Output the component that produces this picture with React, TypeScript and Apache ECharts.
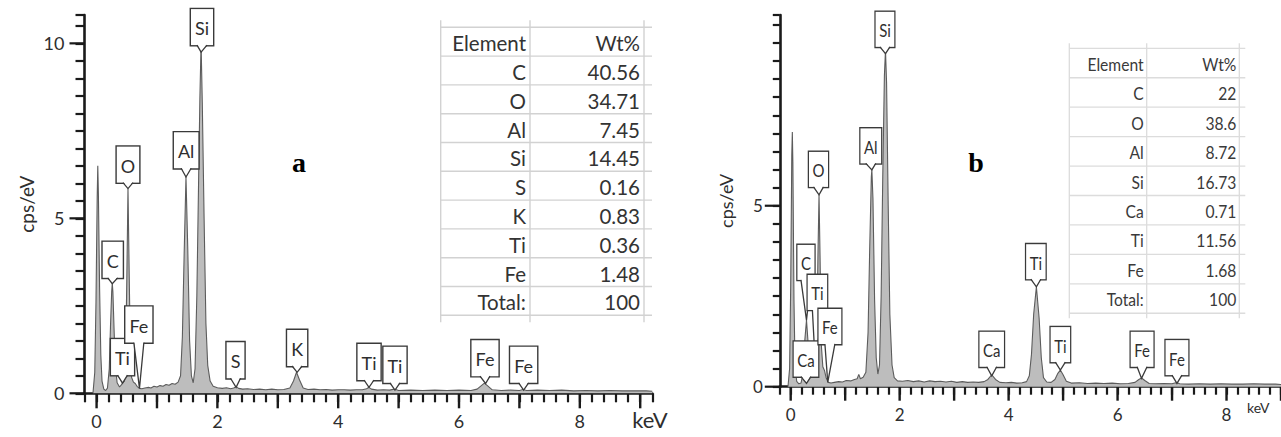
import React, { useEffect, useRef } from 'react';
import * as echarts from 'echarts';

// ---------- DATA ----------
// Spectrum a: [keV, cps/eV]
const spectrumA: [number, number][] = [
  [-0.06, 0.0], [-0.03, 0.6], [-0.01, 2.6], [0.01, 5.6], [0.02, 6.5], [0.03, 5.7], [0.05, 3.0], [0.07, 1.1],
  [0.09, 0.35], [0.12, 0.12], [0.15, 0.08], [0.18, 0.15], [0.21, 0.7], [0.23, 1.9], [0.25, 2.9], [0.26, 3.15],
  [0.27, 2.9], [0.29, 1.8], [0.31, 0.8], [0.34, 0.3], [0.38, 0.18], [0.41, 0.24], [0.43, 0.3], [0.46, 0.35],
  [0.48, 0.9], [0.5, 3.2], [0.52, 5.85], [0.54, 3.4], [0.56, 1.1], [0.58, 0.45], [0.61, 0.32], [0.64, 0.28],
  [0.67, 0.2], [0.71, 0.14], [0.75, 0.13], [0.8, 0.15], [0.86, 0.17], [0.9, 0.15], [0.95, 0.2], [1.0, 0.18],
  [1.05, 0.22], [1.1, 0.2], [1.15, 0.25], [1.2, 0.23], [1.25, 0.28], [1.3, 0.26], [1.35, 0.32], [1.39, 0.5],
  [1.42, 1.6], [1.45, 4.0], [1.48, 6.18], [1.51, 4.1], [1.54, 1.5], [1.57, 0.5], [1.6, 0.3], [1.63, 0.7],
  [1.66, 2.8], [1.69, 6.2], [1.71, 8.4], [1.73, 10.0], [1.75, 8.3], [1.78, 5.0], [1.81, 2.0], [1.84, 0.8],
  [1.88, 0.35], [1.93, 0.2], [2.0, 0.16], [2.08, 0.14], [2.15, 0.16], [2.22, 0.13], [2.27, 0.15], [2.31, 0.19],
  [2.35, 0.14], [2.42, 0.12], [2.5, 0.13], [2.6, 0.11], [2.7, 0.12], [2.8, 0.1], [2.9, 0.12], [3.0, 0.1],
  [3.1, 0.11], [3.2, 0.15], [3.26, 0.35], [3.31, 0.6], [3.36, 0.38], [3.42, 0.15], [3.5, 0.11], [3.6, 0.12],
  [3.7, 0.1], [3.8, 0.11], [3.9, 0.09], [4.0, 0.1], [4.1, 0.1], [4.2, 0.09], [4.3, 0.1], [4.4, 0.1],
  [4.47, 0.13], [4.51, 0.17], [4.55, 0.12], [4.65, 0.09], [4.75, 0.1], [4.85, 0.09], [4.93, 0.12], [5.0, 0.08],
  [5.2, 0.09], [5.4, 0.08], [5.6, 0.09], [5.8, 0.08], [6.0, 0.09], [6.2, 0.08], [6.3, 0.12], [6.37, 0.22],
  [6.42, 0.29], [6.47, 0.22], [6.55, 0.1], [6.7, 0.08], [6.85, 0.09], [7.0, 0.08], [7.06, 0.11], [7.12, 0.08],
  [7.3, 0.09], [7.5, 0.08], [7.7, 0.09], [7.9, 0.07], [8.1, 0.08], [8.3, 0.07], [8.5, 0.08], [8.7, 0.07],
  [8.9, 0.07], [9.1, 0.07], [9.2, 0.06],
];

// Spectrum b: [keV, cps/eV]
const spectrumB: [number, number][] = [
  [-0.05, 0.0], [-0.02, 0.5], [0.0, 2.8], [0.02, 6.4], [0.03, 7.04], [0.04, 6.2], [0.06, 2.4], [0.08, 0.6],
  [0.11, 0.15], [0.15, 0.08], [0.19, 0.1], [0.23, 0.4], [0.26, 1.3], [0.29, 1.84], [0.32, 1.2], [0.35, 0.45],
  [0.39, 0.35], [0.42, 0.5], [0.45, 0.65], [0.48, 1.4], [0.5, 3.6], [0.52, 5.3], [0.54, 3.5], [0.56, 1.2],
  [0.59, 0.55], [0.62, 0.45], [0.65, 0.25], [0.69, 0.12], [0.74, 0.1], [0.8, 0.12], [0.88, 0.14], [0.95, 0.13],
  [1.02, 0.17], [1.1, 0.16], [1.17, 0.2], [1.22, 0.22], [1.25, 0.34], [1.28, 0.22], [1.33, 0.26], [1.38, 0.4],
  [1.42, 1.5], [1.45, 3.8], [1.48, 5.8], [1.49, 5.99], [1.51, 5.2], [1.54, 2.4], [1.57, 0.8], [1.6, 0.35],
  [1.63, 0.6], [1.66, 2.5], [1.69, 5.8], [1.72, 8.6], [1.74, 9.3], [1.76, 8.4], [1.79, 5.0], [1.82, 2.0],
  [1.86, 0.6], [1.9, 0.25], [1.96, 0.16], [2.05, 0.15], [2.15, 0.17], [2.25, 0.14], [2.35, 0.16], [2.45, 0.13],
  [2.55, 0.16], [2.65, 0.14], [2.75, 0.15], [2.85, 0.13], [2.95, 0.15], [3.05, 0.12], [3.15, 0.14], [3.25, 0.12],
  [3.35, 0.13], [3.45, 0.12], [3.55, 0.14], [3.62, 0.2], [3.69, 0.33], [3.76, 0.2], [3.84, 0.12], [3.95, 0.11],
  [4.05, 0.12], [4.15, 0.1], [4.25, 0.11], [4.33, 0.14], [4.38, 0.3], [4.42, 0.9], [4.46, 2.0], [4.51, 2.76],
  [4.56, 1.9], [4.6, 0.8], [4.64, 0.25], [4.7, 0.13], [4.78, 0.12], [4.85, 0.2], [4.9, 0.36], [4.95, 0.46],
  [5.0, 0.33], [5.06, 0.15], [5.15, 0.1], [5.3, 0.11], [5.45, 0.09], [5.6, 0.1], [5.75, 0.09], [5.9, 0.1],
  [6.05, 0.08], [6.2, 0.09], [6.32, 0.12], [6.39, 0.2], [6.44, 0.24], [6.5, 0.17], [6.58, 0.09], [6.7, 0.08],
  [6.85, 0.09], [7.0, 0.08], [7.05, 0.1], [7.09, 0.11], [7.14, 0.08], [7.3, 0.07], [7.5, 0.08], [7.7, 0.07],
  [7.9, 0.08], [8.1, 0.07], [8.3, 0.07], [8.5, 0.08], [8.7, 0.07], [8.9, 0.07], [9.0, 0.06],
];

// Peak labels: [text, tip keV, tip cps, box keV, box-bottom cps]
const peakLabelsA: [string, number, number, number, number][] = [
  ['Si', 1.73, 9.75, 1.745, 9.95],
  ['Al', 1.48, 6.18, 1.483, 6.43],
  ['O', 0.52, 5.85, 0.52, 6.02],
  ['C', 0.26, 3.13, 0.267, 3.3],
  ['Ti', 0.43, 0.29, 0.429, 0.52],
  ['Fe', 0.71, 0.14, 0.7, 1.45],
  ['S', 2.31, 0.17, 2.3, 0.43],
  ['K', 3.32, 0.6, 3.32, 0.78],
  ['Ti', 4.51, 0.17, 4.51, 0.38],
  ['Ti', 4.94, 0.09, 4.94, 0.3],
  ['Fe', 6.44, 0.28, 6.43, 0.49],
  ['Fe', 7.07, 0.09, 7.07, 0.3],
];
const peakLabelsB: [string, number, number, number, number][] = [
  ['Si', 1.74, 9.2, 1.73, 9.39],
  ['Al', 1.49, 5.99, 1.47, 6.17],
  ['O', 0.52, 5.3, 0.51, 5.52],
  ['C', 0.29, 1.84, 0.28, 2.95],
  ['Ti', 0.45, 0.65, 0.49, 2.12],
  ['Ca', 0.29, 0.09, 0.28, 0.28],
  ['Fe', 0.68, 0.12, 0.72, 1.18],
  ['Ca', 3.69, 0.3, 3.69, 0.55],
  ['Ti', 4.51, 2.76, 4.5, 2.97],
  ['Ti', 4.95, 0.46, 4.95, 0.68],
  ['Fe', 6.44, 0.23, 6.45, 0.55],
  ['Fe', 7.09, 0.09, 7.09, 0.32],
];

// Composition tables
const elementsA = ['C', 'O', 'Al', 'Si', 'S', 'K', 'Ti', 'Fe'];
const wtA = [40.56, 34.71, 7.45, 14.45, 0.16, 0.83, 0.36, 1.48];
const totalA = 100;
const elementsB = ['C', 'O', 'Al', 'Si', 'Ca', 'Ti', 'Fe'];
const wtB = [22, 38.6, 8.72, 16.73, 0.71, 11.56, 1.68];
const totalB = 100;

// Axis ticks
const xMajorTicks = [0, 1, 2, 3, 4, 5, 6, 7, 8, 9];
const xTickLabels = [0, 2, 4, 6, 8];
const yLabelsA = [0, 5, 10];
const yLabelsB = [0, 5];
const xMinorInterval = 0.2;
const yMinorInterval = 0.5;

// ---------- STYLE / LAYOUT ----------
const FONT = 'Lato, "Open Sans", sans-serif';
const AX = '#1a1a1a';
const TXT = '#2e2e2e';

function makeLabelRender(labels: [string, number, number, number, number][], fontSize: number, pad: number[], hw: number, scaleX: number) {
  return (params: any, api: any) => {
    const tip = api.coord([api.value(0), api.value(1)]);
    const box = api.coord([api.value(2), api.value(3)]);
    const text = labels[params.dataIndex][0];
    return {
      type: 'group',
      children: [
        {
          type: 'text',
          x: box[0],
          y: box[1],
          scaleX,
          style: {
            text,
            font: `${fontSize}px ${FONT}`,
            fill: TXT,
            align: 'center',
            verticalAlign: 'bottom',
            backgroundColor: '#fff',
            borderColor: '#3a3a3a',
            borderWidth: 1.4,
            padding: pad,
          },
        },
        {
          type: 'polygon',
          shape: { points: [[box[0] - hw, box[1] - 1.2], [tip[0], tip[1]], [box[0] + hw, box[1] - 1.2]] },
          style: { fill: '#fff', stroke: null },
        },
        {
          type: 'polyline',
          shape: { points: [[box[0] - hw, box[1]], [tip[0], tip[1]], [box[0] + hw, box[1]]] },
          style: { stroke: '#3a3a3a', lineWidth: 1.3, fill: null },
        },
      ],
    };
  };
}

function tableGraphics(
  col1: string[], col2: string[],
  L: { x0: number; x1: number; x2: number; y0: number; rowH: number; extV: number; extH: number; fontSize: number; scaleX: number; pad: number; dy: number; lineColor: string; textColor: string; lineWidth: number }
) {
  const n = col1.length;
  const yEnd = L.y0 + n * L.rowH;
  const els: any[] = [];
  [L.x0, L.x1, L.x2].forEach((x) => {
    els.push({ type: 'line', shape: { x1: x, y1: L.y0 - L.extV, x2: x, y2: yEnd + L.extV }, style: { stroke: L.lineColor, lineWidth: L.lineWidth }, silent: true });
  });
  for (let i = 0; i <= n; i++) {
    const y = L.y0 + i * L.rowH;
    els.push({ type: 'line', shape: { x1: L.x0, y1: y, x2: L.x2 + L.extH, y2: y }, style: { stroke: L.lineColor, lineWidth: L.lineWidth }, silent: true });
  }
  for (let i = 0; i < n; i++) {
    const y = L.y0 + (i + 0.5) * L.rowH + L.dy;
    els.push({ type: 'text', x: L.x1 - L.pad, y, scaleX: L.scaleX, style: { text: col1[i], font: `${L.fontSize}px ${FONT}`, fill: L.textColor, align: 'right', verticalAlign: 'middle' }, silent: true });
    els.push({ type: 'text', x: L.x2 - L.pad, y, scaleX: L.scaleX, style: { text: col2[i], font: `${L.fontSize}px ${FONT}`, fill: L.textColor, align: 'right', verticalAlign: 'middle' }, silent: true });
  }
  return els;
}

export default function App() {
  const ref = useRef<HTMLDivElement>(null);
  useEffect(() => {
    if (!ref.current) return;
    const chart = echarts.init(ref.current, undefined, { renderer: 'svg' });

    // min is a multiple of the tick interval so native ticks fall on -0.2, 0, 0.2, ...
    const xA = { min: -0.2, max: 9.2 };
    const xB = { min: -0.2, max: 9.0 };
    const yA = { min: 0, max: 10.81 };
    const yB = { min: 0, max: 10.27 };
    const gridA = { left: 84.5, top: 15, width: 567.8, height: 378.3 };
    const gridB = { left: 779.8, top: 15, width: 501.2, height: 371.7 };

    const xAxisDef = (grid: number, r: any, tickLen: number, fontSize: number, margin: number, nameGap: number, nameSize: number, namePad: number) => ({
      gridIndex: grid, type: 'value', min: r.min, max: r.max, interval: xMinorInterval, position: 'bottom',
      axisLine: { show: true, onZero: false, lineStyle: { color: AX, width: 2.6 } },
      axisTick: { show: true, length: tickLen, lineStyle: { color: AX, width: 2.2 } },
      axisLabel: { show: true, customValues: xTickLabels, margin, fontSize, fontFamily: FONT, color: TXT },
      splitLine: { show: false },
      name: 'keV', nameLocation: 'end', nameGap, nameMoveOverlap: false,
      nameTextStyle: { fontSize: nameSize, fontFamily: FONT, color: TXT, align: 'left', verticalAlign: 'top', padding: [namePad, 0, 0, 0] },
    });
    const yAxisDef = (grid: number, r: any, labels: number[], tickLen: number, fontSize: number, margin: number, nameGap: number, nameSize: number) => ({
      gridIndex: grid, type: 'value', min: r.min, max: r.max, interval: yMinorInterval, position: 'left',
      axisLine: { show: true, onZero: false, lineStyle: { color: AX, width: 2.6 } },
      axisTick: { show: true, length: tickLen, lineStyle: { color: AX, width: 2.2 } },
      axisLabel: { show: true, customValues: labels, margin, fontSize, fontFamily: FONT, color: TXT },
      splitLine: { show: false },
      name: 'cps/eV', nameLocation: 'middle', nameGap, nameMoveOverlap: false,
      nameTextStyle: { fontSize: nameSize, fontFamily: FONT, color: TXT },
    });

    const staticGraphic: any[] = [
      { type: 'text', x: 299, y: 162, style: { text: 'a', font: 'bold 28px "Liberation Serif", "Times New Roman", serif', fill: '#000', align: 'center', verticalAlign: 'middle' }, silent: true },
      { type: 'text', x: 976, y: 162, style: { text: 'b', font: 'bold 28px "Liberation Serif", "Times New Roman", serif', fill: '#000', align: 'center', verticalAlign: 'middle' }, silent: true },
      ...tableGraphics(
        ['Element', ...elementsA, 'Total:'],
        ['Wt%', ...wtA.map(String), String(totalA)],
        { x0: 440.7, x1: 530, x2: 644, y0: 27.3, rowH: 28.8, extV: 7, extH: 8, fontSize: 20.5, scaleX: 1, pad: 4, dy: 1.5, lineColor: '#d2d2d2', textColor: '#333', lineWidth: 1.4 }
      ),
      ...tableGraphics(
        ['Element', ...elementsB, 'Total:'],
        ['Wt%', ...wtB.map(String), String(totalB)],
        { x0: 1069.3, x1: 1146.7, x2: 1239.3, y0: 48.3, rowH: 29.44, extV: 5, extH: 6, fontSize: 17, scaleX: 0.92, pad: 3, dy: 1, lineColor: '#dcdcdc', textColor: '#3a3a3a', lineWidth: 1.3 }
      ),
    ];

    const option: any = {
      animation: false,
      backgroundColor: '#fff',
      grid: [
        { ...gridA, outerBoundsMode: 'none' },
        { ...gridB, outerBoundsMode: 'none' },
      ],
      xAxis: [
        xAxisDef(0, xA, 9, 18, 19, -20, 22, 15),
        xAxisDef(1, xB, 8, 17, 19, -34, 14, 14),
      ],
      yAxis: [
        yAxisDef(0, yA, yLabelsA, 9, 18, 20, 49, 19),
        yAxisDef(1, yB, yLabelsB, 7, 17, 17, 45, 18),
      ],
      series: [
        {
          type: 'line', xAxisIndex: 0, yAxisIndex: 0, data: spectrumA, symbol: 'none', showSymbol: false,
          lineStyle: { color: '#5c5c5c', width: 1.1 }, areaStyle: { color: '#bdbdbd', opacity: 1 }, z: 2,
        },
        {
          type: 'custom', xAxisIndex: 0, yAxisIndex: 0, z: 5, clip: false,
          data: peakLabelsA.map((l) => [l[1], l[2], l[3], l[4]]),
          renderItem: makeLabelRender(peakLabelsA, 18, [10, 4, 8, 4], 5, 1),
        },
        {
          type: 'line', xAxisIndex: 1, yAxisIndex: 1, data: spectrumB, symbol: 'none', showSymbol: false,
          lineStyle: { color: '#5c5c5c', width: 1.1 }, areaStyle: { color: '#bdbdbd', opacity: 1 }, z: 2,
        },
        {
          type: 'custom', xAxisIndex: 1, yAxisIndex: 1, z: 5, clip: false,
          data: peakLabelsB.map((l) => [l[1], l[2], l[3], l[4]]),
          renderItem: makeLabelRender(peakLabelsB, 17, [10, 4, 8, 4], 5, 0.88),
        },
      ],
      graphic: staticGraphic,
    };
    chart.setOption(option);

    // Longer major ticks (integer keV, labelled cps values), positioned through the axes' scales
    const toPx = (seriesIndex: number, xr: any, yr: any, g: any, pt: [number, number]) => {
      let p: any = null;
      try { p = chart.convertToPixel({ seriesIndex } as any, pt); } catch (e) { p = null; }
      if (!p || !isFinite(p[0]) || !isFinite(p[1])) {
        p = [
          g.left + ((pt[0] - xr.min) / (xr.max - xr.min)) * g.width,
          g.top + g.height - ((pt[1] - yr.min) / (yr.max - yr.min)) * g.height,
        ];
      }
      return p;
    };
    const tickEls: any[] = [];
    const addMajor = (seriesIndex: number, xr: any, yr: any, g: any, xs: number[], ys: number[], xLen: number, yLen: number) => {
      xs.filter((v) => v <= xr.max).forEach((v) => {
        const p = toPx(seriesIndex, xr, yr, g, [v, yr.min]);
        tickEls.push({ type: 'line', shape: { x1: p[0], y1: p[1], x2: p[0], y2: p[1] + xLen }, style: { stroke: AX, lineWidth: 2.4 }, silent: true });
      });
      ys.forEach((v) => {
        const p = toPx(seriesIndex, xr, yr, g, [xr.min, v]);
        tickEls.push({ type: 'line', shape: { x1: p[0] - yLen, y1: p[1], x2: p[0], y2: p[1] }, style: { stroke: AX, lineWidth: 2.2 }, silent: true });
      });
    };
    addMajor(0, xA, yA, gridA, xMajorTicks, yLabelsA, 15, 15);
    addMajor(2, xB, yB, gridB, xMajorTicks, yLabelsB, 14, 15);
    chart.setOption({ graphic: [...staticGraphic, ...tickEls] });

    return () => chart.dispose();
  }, []);
  return <div ref={ref} style={{ position: 'absolute', left: 0, top: 0, width: 1281, height: 437 }} />;
}
